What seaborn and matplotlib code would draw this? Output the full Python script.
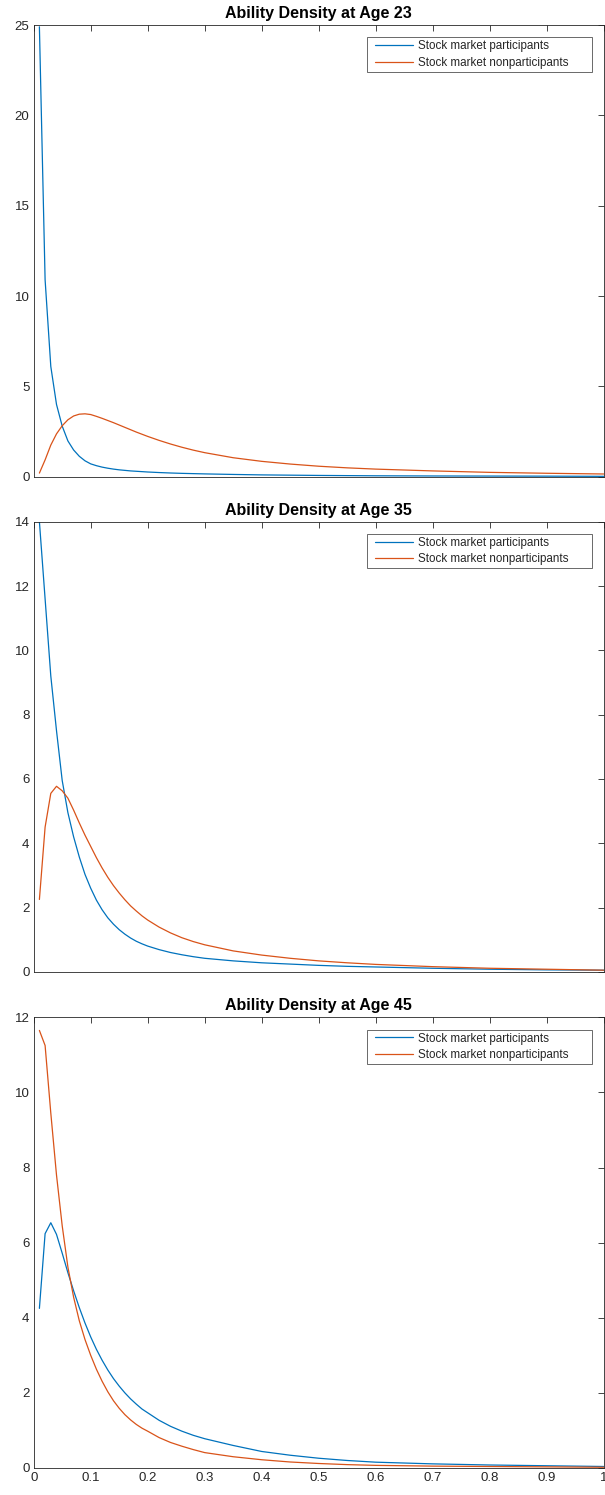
import matplotlib
matplotlib.use("Agg")
import matplotlib.pyplot as plt
import seaborn as sns
import pandas as pd
from matplotlib.legend_handler import HandlerLine2D

sns.set_theme(style="white")
plt.rcParams['font.family'] = ['Liberation Sans', 'DejaVu Sans']

x_vals = [0.01, 0.02, 0.03, 0.04, 0.05, 0.06, 0.07, 0.08, 0.09, 0.10,
          0.11, 0.12, 0.13, 0.14, 0.15, 0.16, 0.17, 0.18, 0.19, 0.20,
          0.22, 0.24, 0.26, 0.28, 0.30, 0.35, 0.40, 0.45, 0.50, 0.55,
          0.60, 0.70, 0.80, 0.90, 1.00]

age23_part = [24.9, 10.9, 6.1, 4.0, 2.8, 1.98, 1.48, 1.13, 0.88, 0.71,
              0.61, 0.53, 0.47, 0.42, 0.38, 0.35, 0.32, 0.30, 0.28, 0.26,
              0.23, 0.205, 0.185, 0.17, 0.155, 0.125, 0.10, 0.085, 0.07, 0.06,
              0.05, 0.04, 0.035, 0.03, 0.02]
age23_nonpart = [0.2, 0.93, 1.75, 2.37, 2.82, 3.15, 3.36, 3.46, 3.48, 3.44,
                 3.34, 3.23, 3.11, 2.99, 2.86, 2.73, 2.60, 2.47, 2.35, 2.23,
                 2.01, 1.81, 1.63, 1.47, 1.33, 1.05, 0.85, 0.70, 0.58, 0.49,
                 0.42, 0.32, 0.24, 0.19, 0.15]

age35_part = [14.0, 11.6, 9.2, 7.5, 5.95, 4.95, 4.2, 3.57, 3.03, 2.6,
              2.23, 1.93, 1.68, 1.48, 1.31, 1.17, 1.05, 0.95, 0.87, 0.80,
              0.69, 0.60, 0.53, 0.47, 0.42, 0.34, 0.28, 0.24, 0.20, 0.17,
              0.15, 0.11, 0.08, 0.06, 0.05]
age35_nonpart = [2.25, 4.5, 5.55, 5.77, 5.63, 5.40, 5.03, 4.63, 4.25, 3.9,
                 3.55, 3.23, 2.94, 2.68, 2.45, 2.24, 2.05, 1.89, 1.74, 1.61,
                 1.39, 1.21, 1.06, 0.94, 0.84, 0.65, 0.52, 0.42, 0.34, 0.28,
                 0.23, 0.16, 0.11, 0.08, 0.05]

age45_part = [4.25, 6.24, 6.53, 6.22, 5.72, 5.2, 4.72, 4.27, 3.86, 3.49,
              3.16, 2.87, 2.61, 2.38, 2.18, 2.0, 1.84, 1.70, 1.57, 1.47,
              1.27, 1.11, 0.98, 0.87, 0.78, 0.60, 0.44, 0.34, 0.26, 0.20,
              0.155, 0.11, 0.08, 0.06, 0.04]
age45_nonpart = [11.65, 11.25, 9.45, 7.8, 6.45, 5.35, 4.55, 3.92, 3.42, 3.0,
                 2.63, 2.31, 2.03, 1.79, 1.59, 1.42, 1.28, 1.16, 1.06, 0.98,
                 0.81, 0.68, 0.58, 0.49, 0.41, 0.30, 0.22, 0.16, 0.12, 0.09,
                 0.07, 0.05, 0.04, 0.03, 0.02]

titles = ["Ability Density at Age 23", "Ability Density at Age 35", "Ability Density at Age 45"]
series_labels = ["Stock market participants", "Stock market nonparticipants"]
y_max = [25, 14, 12]
y_step = [5, 2, 2]
x_ticks = [0, 0.1, 0.2, 0.3, 0.4, 0.5, 0.6, 0.7, 0.8, 0.9, 1]
x_tick_labels = ["0", "0.1", "0.2", "0.3", "0.4", "0.5", "0.6", "0.7", "0.8", "0.9", "1"]

panels = [(age23_part, age23_nonpart), (age35_part, age35_nonpart), (age45_part, age45_nonpart)]
colors = ["#0072BD", "#D95319"]
axcol = "#262626"

W, H = 605, 1495
LEG_FS = 8.4
LEFT_GAP_PX = 5.0  # extra gap between legend frame and handle line


class PaddedLine(HandlerLine2D):
    def create_artists(self, legend, orig_handle, xdescent, ydescent, width,
                       height, fontsize, trans):
        arts = super().create_artists(legend, orig_handle, xdescent, ydescent,
                                      width, height, fontsize, trans)
        gap = LEFT_GAP_PX * 72.0 / 100.0
        for a in arts:
            xd = list(a.get_xdata())
            if len(xd) >= 2:
                xd[0] = xd[0] + gap
                a.set_xdata(xd)
        return arts


fig = plt.figure(figsize=(W / 100, H / 100), dpi=100)
left = 33.7 / W
width = 570 / W
tops = [25.0, 521.7, 1017.3]
bottoms = [476.7, 971.8, 1468.0]

for i, (p, n) in enumerate(panels):
    ax = fig.add_axes([left, 1 - bottoms[i] / H, width, (bottoms[i] - tops[i]) / H])
    df = pd.DataFrame({
        "x": x_vals * 2,
        "y": list(p) + list(n),
        "group": [series_labels[0]] * len(x_vals) + [series_labels[1]] * len(x_vals),
    })
    sns.lineplot(data=df, x="x", y="y", hue="group", palette=colors, ax=ax,
                 linewidth=0.9, estimator=None, sort=False)
    ax.set_xlim(0, 1)
    ax.set_ylim(0, y_max[i])
    ax.set_xticks(x_ticks)
    if i == 2:
        ax.set_xticklabels(x_tick_labels)
    else:
        ax.set_xticklabels([])
    yt = list(range(0, y_max[i] + 1, y_step[i]))
    ax.set_yticks(yt)
    ax.set_yticklabels([str(v) for v in yt])
    ax.set_xlabel("")
    ax.set_ylabel("")
    ax.tick_params(direction="in", length=4, width=0.6, colors=axcol,
                   labelsize=9.5, top=True, right=True, pad=3)
    for s in ax.spines.values():
        s.set_color(axcol)
        s.set_linewidth(0.6)
    ax.set_title(titles[i], fontsize=11.5, fontweight="bold", color="black", pad=5)

    ax_h = bottoms[i] - tops[i]
    leg_top = 1 - (37.3 - 25.0) / ax_h
    x0 = (367.3 - 33.7) / 570
    wleg = (592.3 - 367.3) / 570
    handles, labels = ax.get_legend_handles_labels()
    hl = (413.3 - 367.3 - 0.25 * LEG_FS * 100 / 72) / (LEG_FS * 100 / 72)
    leg = ax.legend(handles, labels, loc="upper left",
                    bbox_to_anchor=(x0, leg_top - 0.3, wleg, 0.3), mode="expand",
                    fontsize=LEG_FS, frameon=True, fancybox=False,
                    handlelength=hl, borderpad=0.25, labelspacing=0.38,
                    handletextpad=0.4, borderaxespad=0,
                    handler_map={type(handles[0]): PaddedLine()})
    leg.get_frame().set_edgecolor(axcol)
    leg.get_frame().set_linewidth(0.6)
    for line in leg.get_lines():
        line.set_linewidth(0.9)

fig.savefig("out.png", dpi=100, facecolor="white")
